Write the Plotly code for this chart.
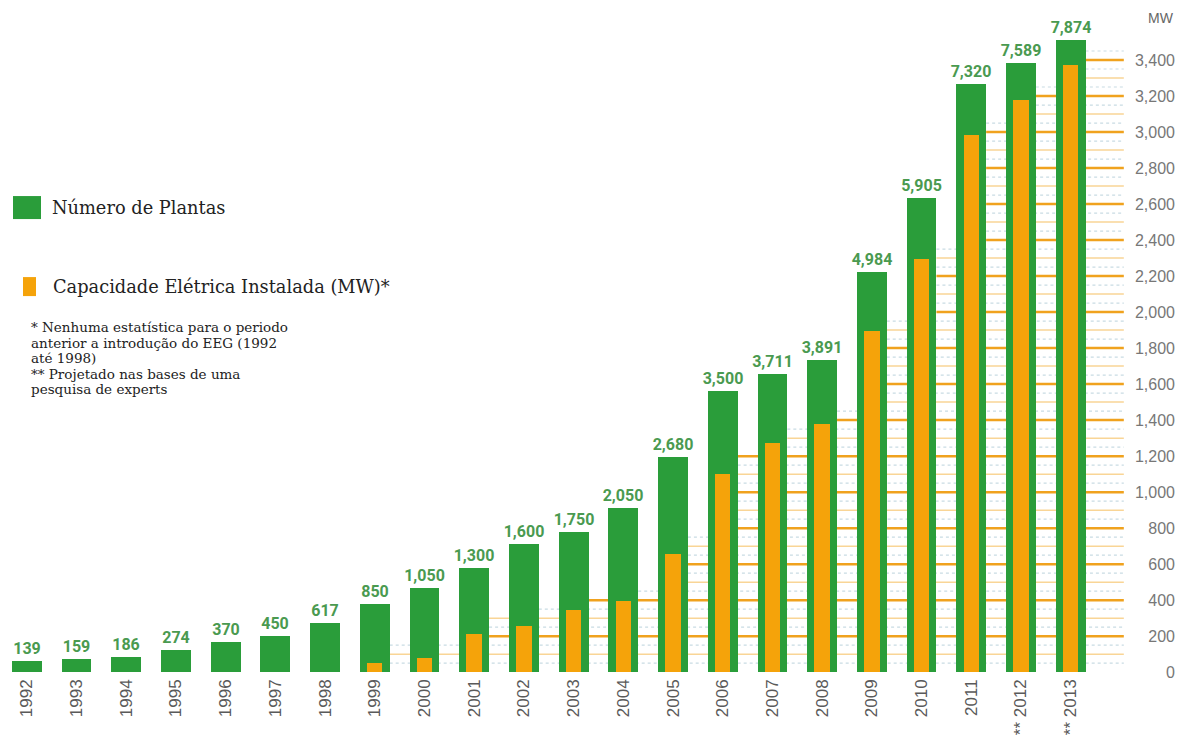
import plotly.graph_objects as go

years = ["1992", "1993", "1994", "1995", "1996", "1997", "1998", "1999", "2000", "2001", "2002",
         "2003", "2004", "2005", "2006", "2007", "2008", "2009", "2010", "2011", "2012", "2013"]
year_labels = years[:-2] + ["** 2012", "** 2013"]
plants = [139, 159, 186, 274, 370, 450, 617, 850, 1050, 1300, 1600,
          1750, 2050, 2680, 3500, 3711, 3891, 4984, 5905, 7320, 7589, 7874]
capacity_mw = [0, 0, 0, 0, 0, 0, 0, 50, 80, 210, 257,
               345, 396, 655, 1100, 1271, 1377, 1893, 2294, 2985, 3180, 3375]
mw_ticks = list(range(0, 3401, 200))
footnotes = ["* Nenhuma estatística para o periodo",
             "anterior a introdução do EEG (1992",
             "até 1998)",
             "** Projetado nas bases de uma",
             "pesquisa de experts"]

GREEN = "#2a9d3a"
ORANGE = "#f5a30a"
LABEL_GREEN = "#4a9a50"

xs = list(range(len(years)))

W, H = 1186, 735
PX_PER_MW = 0.18
ZERO_Y = 672          # pixel row of MW = 0
TOP_Y = 8             # pixel row of plot top
PAD_MW = 60           # small pad below zero so the "0" label is shown
L_M, R_M = 2, 8
T_M = TOP_Y
bottom_px = ZERO_Y + PAD_MW * PX_PER_MW
B_M = H - bottom_px
mw_top = (ZERO_Y - TOP_Y) / PX_PER_MW
plant_scale = 7874 / ((ZERO_Y - 40) / PX_PER_MW)   # plants per MW unit of height

fig = go.Figure()

fig.add_trace(go.Bar(
    x=xs, y=plants, yaxis="y", width=0.6,
    marker=dict(color=GREEN, line=dict(width=0)),
    texttemplate="%{y:,}", textposition="outside", constraintext="none",
    textfont=dict(color=LABEL_GREEN, size=16, family="Roboto", weight="bold"),
    cliponaxis=False, name="Número de Plantas", showlegend=False,
))
fig.add_trace(go.Bar(
    x=xs, y=capacity_mw, yaxis="y2", width=0.31,
    marker=dict(color=ORANGE, line=dict(width=0)),
    name="Capacidade Elétrica Instalada (MW)*", showlegend=False,
))

# background grid lines (start after the first bar whose capacity reaches the level - 100)
shapes = []
x_end = len(years) - 1 + 1.07
for lvl in range(50, 3451, 50):
    start_idx = next((i for i, v in enumerate(capacity_mw) if v > 0 and v >= lvl - 100), None)
    if start_idx is None:
        continue
    x0 = start_idx + 0.3
    if lvl % 200 == 0:
        line = dict(color="#f0a21e", width=2.5)
    elif lvl % 100 == 0:
        line = dict(color="#f9d596", width=1.5)
    else:
        line = dict(color="#c9dce3", width=1.2, dash="dot")
    shapes.append(dict(type="line", xref="x", yref="y2", x0=x0, x1=x_end, y0=lvl, y1=lvl,
                       line=line, layer="below"))

pw, ph = W - L_M - R_M, H - T_M - B_M


def px(x):
    return (x - L_M) / pw


def py(y):
    return (H - B_M - y) / ph


# legend swatches
shapes.append(dict(type="rect", xref="paper", yref="paper", x0=px(13), x1=px(41), y0=py(219), y1=py(196),
                   fillcolor=GREEN, line=dict(width=0)))
shapes.append(dict(type="rect", xref="paper", yref="paper", x0=px(23), x1=px(36), y0=py(296), y1=py(277),
                   fillcolor=ORANGE, line=dict(width=0)))

serif = "DejaVu Serif"
annotations = [
    dict(text="Número de Plantas", xref="paper", yref="paper", x=px(50), y=py(207),
         xanchor="left", yanchor="middle", showarrow=False,
         font=dict(family=serif, size=17.8, color="#222")),
    dict(text="Capacidade Elétrica Instalada (MW)*", xref="paper", yref="paper", x=px(51), y=py(286),
         xanchor="left", yanchor="middle", showarrow=False,
         font=dict(family=serif, size=17.8, color="#222")),
    dict(text="MW", xref="paper", yref="paper", x=px(1176), y=py(18), xanchor="right", yanchor="middle",
         showarrow=False, font=dict(family="Liberation Sans", size=14, color="#666")),
]
for k, line_txt in enumerate(footnotes):
    annotations.append(dict(text=line_txt, xref="paper", yref="paper", x=px(29), y=py(327 + 15.5 * k),
                            xanchor="left", yanchor="middle", showarrow=False,
                            font=dict(family=serif, size=13.5, color="#222")))

fig.update_layout(
    width=W, height=H,
    margin=dict(l=L_M, r=R_M, t=T_M, b=B_M, autoexpand=False),
    paper_bgcolor="white", plot_bgcolor="white",
    barmode="overlay", bargap=0,
    showlegend=False,
    xaxis=dict(
        range=[-0.5, len(years) - 1 + 2.16],
        tickmode="array", tickvals=xs, ticktext=year_labels,
        tickangle=-90, showgrid=False, zeroline=False, showline=False, ticks="",
        tickfont=dict(family="Liberation Sans", size=17, color="#5a5a5a"),
        ticklabelstandoff=-8,
        automargin=False,
    ),
    yaxis=dict(range=[-PAD_MW * plant_scale, mw_top * plant_scale], visible=False),
    yaxis2=dict(
        range=[-PAD_MW, mw_top], overlaying="y",
        side="right", tickmode="array", tickvals=mw_ticks, tickformat=",",
        ticklabelposition="inside", showgrid=False, zeroline=False, showline=False, ticks="",
        tickfont=dict(family="Liberation Sans", size=16, color="#777"),
        automargin=False,
    ),
    shapes=shapes,
    annotations=annotations,
)

fig.write_html("out.html", config={"displayModeBar": False},
               post_script="document.body.style.margin='0';")
